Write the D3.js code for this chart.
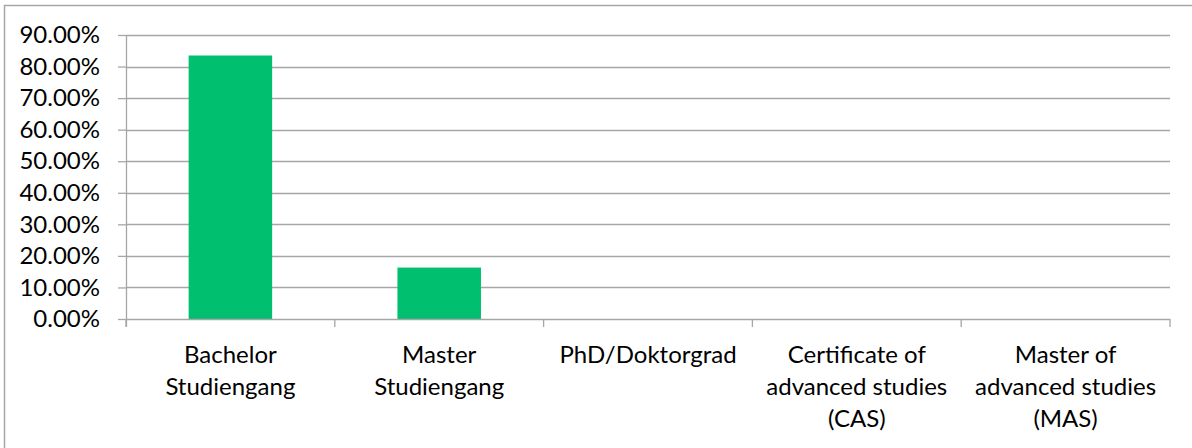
<!DOCTYPE html>
<html lang="en">
<head>
    <meta charset="UTF-8">
    <title>Studiengang</title>
    <style>
        body { margin: 0; background: #fff; }
        svg { display: block; }
    </style>
</head>
<body>
<script src="https://d3js.org/d3.v7.min.js"></script>

<div id="my_data"></div>

<script type="text/javascript">

    // data
    var categories = [
        "Bachelor Studiengang",
        "Master Studiengang",
        "PhD/Doktorgrad",
        "Certificate of advanced studies (CAS)",
        "Master of advanced studies (MAS)"
    ];
    var labelLines = [
        ["Bachelor", "Studiengang"],
        ["Master", "Studiengang"],
        ["PhD/Doktorgrad"],
        ["Certificate of", "advanced studies", "(CAS)"],
        ["Master of", "advanced studies", "(MAS)"]
    ];
    var values = [0.835, 0.163, 0, 0, 0];
    var yTicks = [0, 0.1, 0.2, 0.3, 0.4, 0.5, 0.6, 0.7, 0.8, 0.9];

    var W = 1192, H = 448;
    var margin = { top: 35, right: 22, bottom: 129, left: 126 },
        width = W - margin.left - margin.right,
        height = H - margin.top - margin.bottom;

    var root = d3
        .select("#my_data")
        .append("svg")
        .attr("width", W)
        .attr("height", H);

    // rahmen
    root.append("rect")
        .attr("x", 4.5)
        .attr("y", 5.5)
        .attr("width", W)
        .attr("height", H)
        .attr("fill", "none")
        .attr("stroke", "#a6a6a6")
        .attr("stroke-width", 1.5);

    var svg = root.append("g")
        .attr("transform", "translate(" + margin.left + "," + margin.top + ")");

    var x = d3.scaleBand()
        .range([0, width])
        .domain(categories)
        .padding(0);

    var y = d3.scaleLinear()
        .range([height, 0])
        .domain([0, 0.9]);

    // gridlines
    svg.append("g")
        .selectAll("line")
        .data(yTicks.slice(1))
        .enter()
        .append("line")
        .attr("x1", 0)
        .attr("x2", width)
        .attr("y1", function(d) { return Math.round(y(d)) + 0.5; })
        .attr("y2", function(d) { return Math.round(y(d)) + 0.5; })
        .attr("stroke", "#a6a6a6")
        .attr("stroke-width", 1.3);

    // bars
    var barW = x.bandwidth() * 0.4;
    svg.selectAll(".bar")
        .data(values)
        .enter()
        .append("rect")
        .attr("class", "bar")
        .attr("x", function(d, i) { return x(categories[i]) + (x.bandwidth() - barW) / 2; })
        .attr("y", function(d) { return y(d); })
        .attr("width", barW)
        .attr("height", function(d) { return height - y(d); })
        .attr("fill", "#00bf6f");

    // y axis
    var yAxis = svg.append("g")
        .call(d3.axisLeft(y)
            .tickValues(yTicks)
            .tickSize(8)
            .tickPadding(18)
            .tickFormat(d3.format(".2%")));
    yAxis.select(".domain").attr("stroke", "#a6a6a6").attr("stroke-width", 1.3)
        .attr("d", "M0.5," + (height + 8) + "V0.5");
    yAxis.selectAll(".tick line").attr("stroke", "#a6a6a6").attr("stroke-width", 1.3);
    yAxis.selectAll(".tick text")
        .style("font-family", "Lato, 'Open Sans', sans-serif")
        .style("font-size", "24px")
        .attr("fill", "#000");

    // x axis
    var xAxis = svg.append("g")
        .attr("transform", "translate(0," + height + ")");
    xAxis.append("line")
        .attr("x1", 0).attr("x2", width)
        .attr("y1", 0.5).attr("y2", 0.5)
        .attr("stroke", "#a6a6a6").attr("stroke-width", 1.3);
    xAxis.selectAll(".xtick")
        .data(categories.concat([null]))
        .enter()
        .append("line")
        .attr("x1", function(d) { return d === null ? width : x(d); })
        .attr("x2", function(d) { return d === null ? width : x(d); })
        .attr("y1", 0)
        .attr("y2", 8)
        .attr("stroke", "#a6a6a6").attr("stroke-width", 1.3);

    var lbl = xAxis.selectAll(".xlabel")
        .data(categories)
        .enter()
        .append("text")
        .attr("text-anchor", "middle")
        .attr("x", function(d) { return x(d) + x.bandwidth() / 2; })
        .style("font-family", "Lato, 'Open Sans', sans-serif")
        .style("font-size", "24px")
        .attr("fill", "#000");
    lbl.each(function(d, i) {
        var t = d3.select(this);
        labelLines[i].forEach(function(line, j) {
            t.append("tspan")
                .attr("x", x(d) + x.bandwidth() / 2)
                .attr("y", 44 + j * 32)
                .text(line);
        });
    });

</script>
</body>
</html>
